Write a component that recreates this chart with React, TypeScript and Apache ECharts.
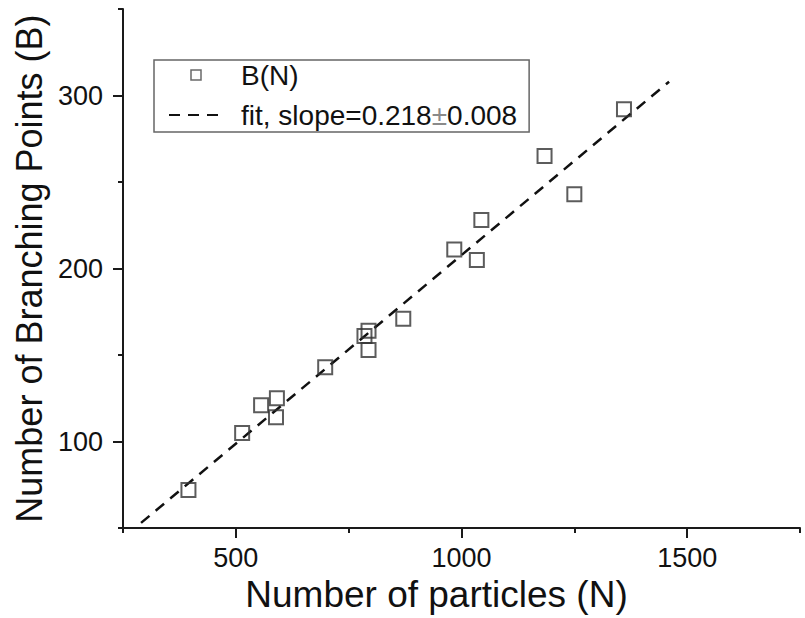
import React, { useEffect, useRef } from 'react';
import * as echarts from 'echarts';

// Scatter data: number of particles (N) vs number of branching points (B)
const particlesN = [395, 514, 556, 591, 589, 698, 785, 794, 794, 871, 984, 1034, 1044, 1184, 1250, 1360];
const branchingB = [72, 105, 121, 125, 114, 143, 161, 164, 153, 171, 211, 205, 228, 265, 243, 292];

// Linear fit line end points
const fitN = [290, 1460];
const fitB = [53, 308];

// Axis ticks
const xMajorTicks = [500, 1000, 1500];
const yMajorTicks = [100, 200, 300];

const scatterName = 'B(N)';
const fitName = 'fit, slope=0.218±0.008';
const xTitle = 'Number of particles (N)';
const yTitle = 'Number of Branching Points (B)';

const FONT = '"Liberation Sans", Arial, sans-serif';
const INK = '#1a1a1a';

export default function App() {
  const ref = useRef<HTMLDivElement>(null);
  useEffect(() => {
    if (!ref.current) return;
    const chart = echarts.init(ref.current, undefined, { renderer: 'svg' });
    const axisLine = { show: true, lineStyle: { color: INK, width: 2 } };
    const labelStyle = { fontFamily: FONT, fontSize: 27, color: '#111', formatter: (v: number) => String(v) };
    chart.setOption({
      animation: false,
      backgroundColor: '#ffffff',
      grid: { left: 123, right: 5, top: 9, bottom: 84, containLabel: false },
      xAxis: [
        {
          type: 'value', min: 250, max: 1750, interval: 250, position: 'bottom',
          axisLine,
          axisTick: { show: true, inside: false, length: 5, lineStyle: { color: INK, width: 2 } },
          axisLabel: { show: false },
          splitLine: { show: false },
        },
        {
          type: 'value', min: 250, max: 1750, position: 'bottom',
          axisLine: { show: false },
          axisTick: { show: true, inside: false, length: 10, customValues: xMajorTicks, lineStyle: { color: INK, width: 2 } },
          axisLabel: { show: true, customValues: xMajorTicks, margin: 16, ...labelStyle },
          splitLine: { show: false },
          name: xTitle,
          nameLocation: 'middle',
          nameGap: 44,
          nameTextStyle: { fontFamily: FONT, fontSize: 37, color: '#111', padding: [0, 50, 0, 0] },
        },
      ],
      yAxis: [
        {
          type: 'value', min: 50, max: 350, interval: 50, position: 'left',
          axisLine,
          axisTick: { show: true, inside: false, length: 5, lineStyle: { color: INK, width: 2 } },
          axisLabel: { show: false },
          splitLine: { show: false },
        },
        {
          type: 'value', min: 50, max: 350, position: 'left',
          axisLine: { show: false },
          axisTick: { show: true, inside: false, length: 10, customValues: yMajorTicks, lineStyle: { color: INK, width: 2 } },
          axisLabel: { show: true, customValues: yMajorTicks, margin: 20, ...labelStyle },
          splitLine: { show: false },
          name: yTitle,
          nameLocation: 'middle',
          nameGap: 74,
          nameTextStyle: { fontFamily: FONT, fontSize: 36, color: '#111' },
        },
      ],
      legend: {
        show: true,
        orient: 'vertical',
        left: 154,
        top: 60,
        itemWidth: 54,
        itemHeight: 10,
        itemGap: 10,
        padding: [0, 12, 2, 14],
        borderColor: '#666',
        borderWidth: 1.5,
        selectedMode: false,
        symbolKeepAspect: true,
        data: [
          {
            name: scatterName,
            icon: 'path://M0,0H10V10H0Z',
            itemStyle: { color: 'transparent', borderColor: '#444', borderWidth: 1.5 },
          },
          { name: fitName, itemStyle: { color: 'transparent', borderWidth: 0 } },
        ],
        formatter: (name: string) => {
          if (name === fitName) {
            const [a, b] = name.split('±');
            return `{a|${a}}{pm|±}{a|${b}}`;
          }
          return `{a|${name}}`;
        },
        textStyle: {
          fontFamily: FONT, fontSize: 28, color: '#111', lineHeight: 30,
          padding: [0, 0, 0, 13],
          rich: {
            a: { fontFamily: FONT, fontSize: 28, color: '#111', lineHeight: 30 },
            pm: { fontFamily: FONT, fontSize: 28, color: '#8a8a8a', lineHeight: 30 },
          },
        },
      },
      series: [
        {
          name: scatterName,
          type: 'scatter',
          xAxisIndex: 0,
          yAxisIndex: 0,
          symbol: 'rect',
          symbolSize: 14,
          itemStyle: { color: 'transparent', borderColor: '#333', borderWidth: 2 },
          data: particlesN.map((n, i) => [n, branchingB[i]]),
          z: 3,
        },
        {
          name: fitName,
          type: 'line',
          xAxisIndex: 0,
          yAxisIndex: 0,
          symbol: 'none',
          itemStyle: { color: 'transparent', borderWidth: 0 },
          lineStyle: { type: [11, 8], width: 2.5, color: '#111' },
          data: fitN.map((n, i) => [n, fitB[i]]),
          z: 2,
        },
      ],
    });
    return () => chart.dispose();
  }, []);
  return <div ref={ref} style={{ position: 'fixed', left: 0, top: 0, width: 805, height: 618, background: '#fff' }} />;
}
